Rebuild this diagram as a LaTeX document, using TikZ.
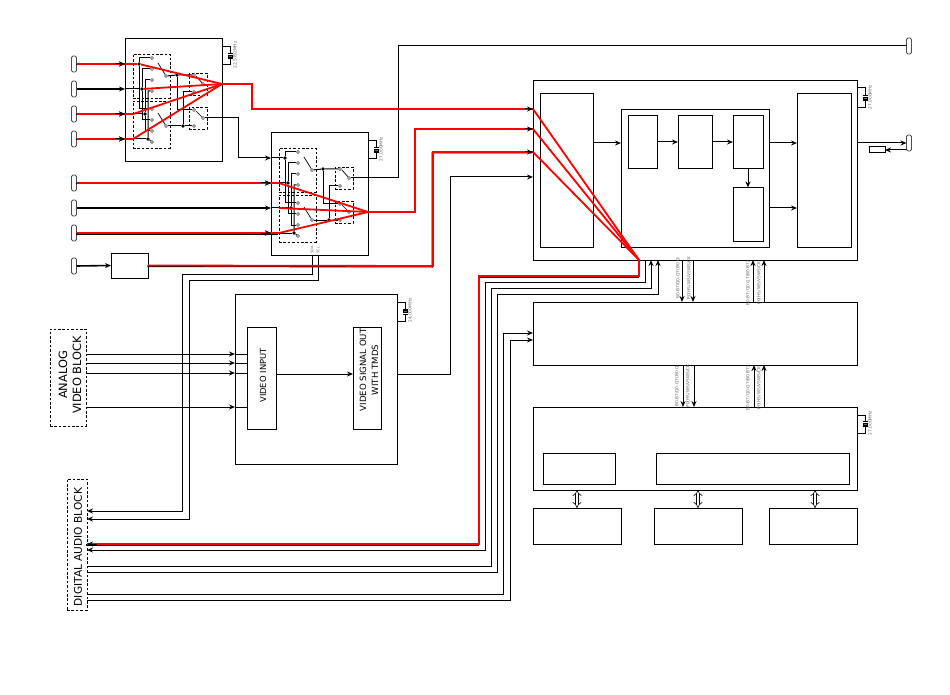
\documentclass[tikz,border=0pt]{standalone}
\usepackage{fontspec}
\setmainfont{DejaVu Sans}
\usetikzlibrary{arrows.meta,calc}
\tikzset{
  box/.style={draw=black,line width=1pt,fill=none,anchor=north west,inner sep=0pt,outer sep=0pt},
  dbox/.style={draw=black,line width=0.9pt,dash pattern=on 2.6pt off 1.8pt,anchor=north west,inner sep=0pt,outer sep=0pt},
  capsule/.style={draw=black!70,line width=0.8pt,rounded corners=1.5pt,minimum width=5pt,minimum height=16pt,inner sep=0pt,outer sep=0pt},
  wire/.style={draw=black,line width=1pt},
  heavy wire/.style={draw=black,line width=1.6pt},
  tipped/.style={-{Stealth[length=6pt,width=5pt]}},
  tippedL/.style={{Stealth[length=6pt,width=5pt]}-},
  redw/.style={draw=red,line width=1.8pt,line join=miter},
  under/.style={draw=black,line width=1.6pt,transform canvas={xshift=-0.7pt,yshift=-0.7pt}},
  term/.style={circle,draw=black!75,fill=white,line width=0.6pt,minimum size=3pt,inner sep=0pt},
  jdot/.style={circle,fill=black,minimum size=3.6pt,inner sep=0pt},
  tiny label/.style={font=\fontsize{4.3pt}{5pt}\selectfont,text=black!60,rotate=90,inner sep=0pt},
  blocktext/.style={rotate=90,align=center,inner sep=0pt},
  fat/.style={draw=black,line width=0.6pt,double=white,double distance=2.6pt,{Implies}-{Implies}},
}
\newcommand\bx[5]{\node[box,minimum width=#4pt,minimum height=#5pt] (#1) at (#2,#3) {};}
\newcommand\dbx[5]{\node[dbox,minimum width=#4pt,minimum height=#5pt] (#1) at (#2,#3) {};}
\newcommand\rw[1]{\draw[under] #1; \draw[redw] #1;}
\newcommand\xtal[5]{% name, x of box edge, y top, y bottom, label
  \coordinate (#1a) at (#2,#3);
  \coordinate (#1b) at (#2,#4);
  \coordinate (#1c) at ($(#2,#3)+(8,0)$);
  \coordinate (#1d) at ($(#2,#4)+(8,0)$);
  \coordinate (#1m) at ($(#1c)!0.5!(#1d)$);
  \draw[wire] (#1a) -- (#1c) -- ($(#1m)+(0,-2.5)$);
  \draw[wire] (#1b) -- (#1d) -- ($(#1m)+(0,2.5)$);
  \draw[wire,line width=0.7pt] ($(#1m)+(-2.5,-2.5)$) -- ($(#1m)+(2.5,-2.5)$);
  \draw[wire,line width=0.7pt] ($(#1m)+(-2.5,2.5)$) -- ($(#1m)+(2.5,2.5)$);
  \node[draw=black,fill=black!60,line width=0.5pt,minimum width=3.5pt,minimum height=2.4pt,inner sep=0pt] (#1x) at (#1m) {};
  \node[tiny label] (#1l) at ($(#1m)+(5,-1)$) {#5};
}
\newcommand\swgroup[3]{% prefix, shift, crystal text
\begin{scope}[shift={(#2)},name prefix=#1-]
  \bx{box}{125}{38.5}{97}{123}
  \dbx{du}{133}{54}{37}{44}
  \dbx{dl}{133}{101}{37}{47}
  \dbx{s1}{189}{73}{18}{22}
  \dbx{s2}{189}{107}{18}{22}
  \xtal{x}{222}{47}{65}{#3}
  \foreach \n/\yy in {1/64,2/89,3/114,4/139} {\coordinate (p\n) at (125,\yy);}
  \coordinate (apex1) at (222,84);
  \coordinate (apex2) at (222,118);
  \node[jdot] (d1) at (139,64) {};
  \node[jdot] (d2) at (142,89) {};
  \node[jdot] (d3) at (145,114) {};
  \node[jdot] (d4) at (148,139) {};
  \node[term] (t1) at (152,58) {};
  \node[term] (t2) at (152,69) {};
  \node[term] (t3) at (152,80) {};
  \node[term] (t4) at (152,91) {};
  \node[term] (t5) at (152,109) {};
  \node[term] (t6) at (152,120) {};
  \node[term] (t7) at (152,131) {};
  \node[term] (t8) at (152,142) {};
  \node[term] (pu) at (166,76) {};
  \node[term] (pl) at (166,126) {};
  \node[term] (r1) at (194,75) {};
  \node[term] (r2) at (194,92) {};
  \node[term] (r3) at (194,110) {};
  \node[term] (r4) at (194,126) {};
  \node[term] (q1) at (203,84) {};
  \node[term] (q2) at (203,118) {};
  \node[jdot] (ju) at (177,75) {};
  \node[jdot] (jl) at (183,126) {};
  \draw[wire] (p1) -- (d1); \draw[wire] (p2) -- (d2); \draw[wire] (p3) -- (d3); \draw[wire] (p4) -- (d4);
  \draw[wire] (t1) -- (139,58) -- (d1) -- (139,109) -- (t5);
  \draw[wire] (t2) -- (142,69) -- (d2) -- (142,120) -- (t6);
  \draw[wire] (t3) -- (145,80) -- (d3) -- (145,131) -- (t7);
  \draw[wire] (t4) -- (148,91) -- (d4) -- (t8);
  \draw[wire,line width=0.7pt] (158,63) -- (pu);
  \draw[wire,line width=0.7pt] (158,113) -- (pl);
  \draw[wire] (pu) -- (ju) -- (r1);
  \draw[wire] (ju) -- (177,110) -- (r3);
  \draw[wire] (pl) -- (jl) -- (r4);
  \draw[wire] (jl) -- (183,92) -- (r2);
  \draw[wire,line width=0.7pt] (196,76) -- (q1);
  \draw[wire,line width=0.7pt] (196,111) -- (q2);
\end{scope}}

\begin{document}
\begin{tikzpicture}[x=1pt,y=-1pt]
\useasboundingbox (0,0) rectangle (950,695);
\fill[white] (0,0) rectangle (950,695);

% left connectors
\node[capsule] (in1) at (74,64) {};
\node[capsule] (in2) at (74,89) {};
\node[capsule] (in3) at (74,114) {};
\node[capsule] (in4) at (74,139) {};
\node[capsule] (in5) at (74,183) {};
\node[capsule] (in6) at (74,208) {};
\node[capsule] (in7) at (74,233) {};
\node[capsule] (in8) at (74,266) {};
\node[capsule] (outT) at (909,46) {};
\node[capsule] (outM) at (909,143) {};

\swgroup{A}{0,0}{22.5792MHz}
\swgroup{B}{146,94}{27.000MHz}

\node[tiny label,font=\fontsize{3.6pt}{4pt}\selectfont] (sda) at (312,250) {SDA};
\node[tiny label,font=\fontsize{3.6pt}{4pt}\selectfont] (scl) at (318,250) {SCL};

\bx{conv}{111}{253}{37}{25}

% video block
\bx{V}{235}{294}{162}{170}
\bx{Vi}{247}{327}{29}{102}
\bx{Vo}{353}{327}{28}{102}
\node[blocktext,font=\fontsize{8.4pt}{11.5pt}\selectfont] (VIt) at (263,375.5) {VIDEO INPUT};
\node[blocktext,font=\fontsize{8.6pt}{12pt}\selectfont] (VOt) at (369,370) {VIDEO SIGNAL OUT\\WITH TMDS};
\xtal{xv}{397}{302}{321}{24.000MHz}

% main box
\bx{C}{533}{80.5}{324}{179.5}
\bx{Cl}{540}{93.5}{53}{153.5}
\bx{Cm}{621}{109.5}{148}{137.5}
\bx{C1}{628}{115.5}{29}{53}
\bx{C2}{678}{115.5}{34}{53}
\bx{C3}{733}{115.5}{30}{53}
\bx{C4}{733}{187.5}{30}{54}
\bx{Cr}{797}{93.5}{54}{153.5}
\xtal{xc}{857}{88}{108}{27.000MHz}
\bx{D}{533}{302}{324}{63}
\bx{E}{533}{407}{324}{83}
\bx{E1}{543}{453}{72}{31}
\bx{E2}{656}{453}{193}{31}
\xtal{xe}{857}{415}{433}{27.000MHz}
\bx{F1}{533}{508}{88}{36}
\bx{F2}{654}{508}{88}{36}
\bx{F3}{769}{508}{88}{36}
\node[box,minimum width=16pt,minimum height=6pt] (res) at (869,147) {};

% blocks
\dbx{AV}{50}{329}{36}{97}
\dbx{DA}{67}{479}{20}{131}
\node[blocktext,font=\fontsize{11.4pt}{14pt}\selectfont] (AVt) at (70,375) {ANALOG\\VIDEO BLOCK};
\node[blocktext,font=\fontsize{10.6pt}{13pt}\selectfont] (DAt) at (78,547) {DIGITAL AUDIO BLOCK};

% input wires
\draw[wire,tipped] (in1.east) -- (A-p1);
\draw[heavy wire,tipped] (in2.east) -- (A-p2);
\draw[wire,tipped] (in3.east) -- (A-p3);
\draw[wire,tipped] (in4.east) -- (A-p4);
\draw[wire,tipped] (in5.east) -- (B-p2);
\draw[heavy wire,tipped] (in6.east) -- (B-p3);
\draw[wire,tipped] (in7.east) -- (B-p4);
\draw[heavy wire,tipped] (in8.east) -- (conv.west);

% A second switch to B
\draw[wire,tipped] (A-q2) -- (238,118) -- (238,158) -- (B-p1);
% B first switch to top right connector
\draw[wire] (B-q1) -- (398,178) -- (398,46) -- (outT.west);

% analog lines
\foreach \n/\yy in {a/354,b/363,c/373,d/407}{
  \coordinate (av\n) at (86,\yy);
  \coordinate (vv\n) at (235,\yy);
  \coordinate (vi\n) at (247,\yy);
  \draw[wire,tipped] (av\n) -- (vv\n);
  \draw[wire] (vv\n) -- (vi\n);
}
\draw[wire,tipped] (Vi.east |- 0,374) -- (Vo.west |- 0,374);
% video out to main
\draw[wire,tipped] (V.east |- 0,374) -- (450,374) -- (450,177) -- (C.west |- 0,177);

% lines to digital block
\draw[wire,tipped] (312,255) -- (312,274) -- (182,274) -- (182,511) -- (DA.east |- 0,511);
\draw[wire,tipped] (318,255) -- (318,280) -- (189,280) -- (189,519) -- (DA.east |- 0,519);

% digital block to main / D
\rw{(C.south -| 639,0) -- (639,276) -- (479,276) -- (479,544) -- (DA.east |- 0,544)}
\draw[wire,tipped] (97,544) -- (DA.east |- 0,544);
\draw[wire,tipped] (645,260) -- (645,282) -- (485,282) -- (485,550) -- (DA.east |- 0,550);
\draw[wire,tippedL] (651,260) -- (651,288) -- (491,288) -- (491,566) -- (DA.east |- 0,566);
\draw[wire,tippedL] (658,260) -- (658,294) -- (497,294) -- (497,572) -- (DA.east |- 0,572);
\draw[wire,tipped] (DA.east |- 0,594) -- (503,594) -- (503,333) -- (D.west |- 0,333);
\draw[wire,tipped] (DA.east |- 0,600) -- (510,600) -- (510,340) -- (D.west |- 0,340);

% arrows inside main
\draw[wire,tipped] (Cl.east |- 0,143) -- (Cm.west |- 0,143);
\draw[wire,tipped] (C1.east |- 0,142) -- (C2.west |- 0,142);
\draw[wire,tipped] (C2.east |- 0,142) -- (C3.west |- 0,142);
\draw[wire,tipped] (Cm.east |- 0,143) -- (Cr.west |- 0,143);
\draw[wire,tipped] (Cm.east |- 0,208) -- (Cr.west |- 0,208);
\draw[wire,tipped] (C3.south) -- (C4.north);
\draw[wire,tipped] (C.east |- 0,143) -- (outM.west);
\draw[wire,tipped] (outM.west |- 0,150) -- (res.east);

% buses
\draw[wire,tipped] (682,260) -- (682,302);
\draw[wire,tipped] (693,260) -- (693,302);
\draw[wire,tippedL] (753,260) -- (753,302);
\draw[wire,tippedL] (764,260) -- (764,302);
\draw[wire,tipped] (683,365) -- (683,407);
\draw[wire,tipped] (694,365) -- (694,407);
\draw[wire,tippedL] (754,365) -- (754,407);
\draw[wire,tippedL] (764,365) -- (764,407);
\node[tiny label] (l1) at (678,278) {B0-B7/Q0-Q7(B0~0)};
\node[tiny label] (l2) at (689,278) {P0(HS/WS/VSWS/CK};
\node[tiny label] (l3) at (748,283) {B0-B7/Q0-Q7(B0~B7)};
\node[tiny label] (l4) at (759,283) {P0(HS/WS/VSWS/CK};
\node[tiny label] (l5) at (677,386) {B0-B7/Q0-Q7(B0~0)};
\node[tiny label] (l6) at (688,386) {P0(HS/WS/VSWS/CK};
\node[tiny label] (l7) at (748,388) {B0-B7/Q0-Q7(B0~B7)};
\node[tiny label] (l8) at (759,388) {P0(HS/WS/VSWS/CK};

% double arrows
\draw[fat] (577,490) -- (577,508);
\draw[fat] (698,490) -- (698,508);
\draw[fat] (815,490) -- (815,508);

% red signal wires
\rw{(in1.east) -- (A-d1)}
\rw{(in3.east) -- (133,114)}
\rw{(in4.east) -- (133,139)}
\rw{(in5.east) -- (279,183)}
\rw{(in7.east) -- (279,233)}
\draw[redw] (A-d1) -- (A-apex1);
\draw[redw] (A-d2) -- (A-apex1);
\draw[redw] (133,114) -- (A-apex1);
\draw[redw] (133,139) -- (A-apex1);
\draw[redw] (279,183) -- (B-apex2);
\draw[redw] (279,208) -- (B-apex2);
\draw[redw] (279,233) -- (B-apex2);
\rw{(A-apex1) -- (252,84) -- (252,109) -- (C.west |- 0,109)}
\rw{(B-apex2) -- (415,212) -- (415,129) -- (C.west |- 0,129)}
\rw{(conv.east) -- (433,266) -- (433,152) -- (C.west |- 0,152)}
\draw[redw] (C.west |- 0,109) -- (639,260);
\draw[redw] (C.west |- 0,129) -- (639,260);
\draw[redw] (C.west |- 0,152) -- (639,260);
\draw[wire,tipped] (525,109) -- (C.west |- 0,109);
\draw[wire,tipped] (525,129) -- (C.west |- 0,129);
\draw[wire,tipped] (525,152) -- (C.west |- 0,152);
\foreach \n/\yy in {1/64,3/114,4/139}{\draw[wire,tipped] (115,\yy) -- (A-p\n);}
\foreach \n/\yy in {2/183,4/233}{\draw[wire,tipped] (261,\yy) -- (B-p\n);}
\end{tikzpicture}
\end{document}
